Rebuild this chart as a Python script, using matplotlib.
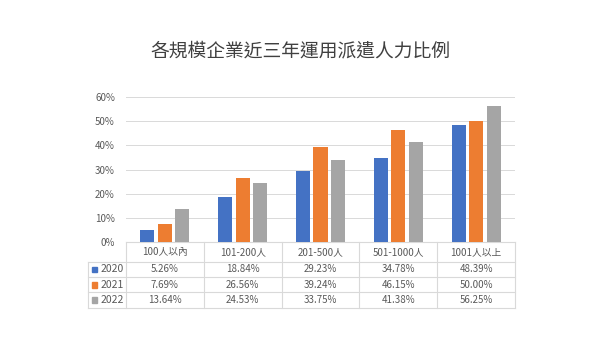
import matplotlib
matplotlib.use('Agg')
import matplotlib.pyplot as plt
import numpy as np
from matplotlib.transforms import blended_transform_factory
from matplotlib.lines import Line2D
from matplotlib.patches import Rectangle

plt.rcParams['font.family'] = ['Noto Sans CJK TC', 'DejaVu Sans']

# --- DATA ---
categories = ['100人以內', '101-200人', '201-500人', '501-1000人', '1001人以上']
years = ['2020', '2021', '2022']
v2020 = [5.26, 18.84, 29.23, 34.78, 48.39]
v2021 = [7.69, 26.56, 39.24, 46.15, 50.00]
v2022 = [13.64, 24.53, 33.75, 41.38, 56.25]
series = [v2020, v2021, v2022]
colors = ['#4472C4', '#ED7D31', '#A5A5A5']
yticks = [0, 10, 20, 30, 40, 50, 60]

text_col = '#595959'
line_col = '#D9D9D9'

fig = plt.figure(figsize=(6, 3.38), dpi=100)
fig.patch.set_facecolor('white')

# plot area in figure fractions
ax = fig.add_axes([126 / 600, 1 - 242.3 / 338, 389 / 600, 145.6 / 338])

x = np.arange(len(categories))
w = 0.18
gap = 0.045
for i, vals in enumerate(series):
    ax.bar(x + (i - 1) * (w + gap), vals, width=w, color=colors[i], zorder=3)

ax.set_xlim(-0.5, len(categories) - 0.5)
ax.set_ylim(0, 60)
ax.set_yticks(yticks)
ax.set_yticklabels([f'{t}%' for t in yticks], fontsize=7, color=text_col)
ax.set_xticks([])
ax.tick_params(axis='y', length=0, pad=8)
ax.grid(axis='y', color=line_col, linewidth=0.7, zorder=0)
for s in ['top', 'right', 'left']:
    ax.spines[s].set_visible(False)
ax.spines['bottom'].set_color(line_col)
ax.spines['bottom'].set_linewidth(0.8)

# --- DATA TABLE under the axis ---
tr = blended_transform_factory(ax.transData, ax.transAxes)
px = 145.6  # axes height in px
row_edges = [0, -19.4 / px, -35.0 / px, -50.0 / px, -65.4 / px]
left_edge = -0.5 - 38 / 77.8

def hline(x0, x1, y):
    ax.add_line(Line2D([x0, x1], [y, y], transform=tr, color=line_col,
                       linewidth=0.8, clip_on=False))

def vline(xx, y0, y1):
    ax.add_line(Line2D([xx, xx], [y0, y1], transform=tr, color=line_col,
                       linewidth=0.8, clip_on=False))

for y in row_edges[1:]:
    hline(left_edge, len(categories) - 0.5, y)
for b in np.arange(-0.5, len(categories), 1.0):
    vline(b, 0, row_edges[-1])
vline(left_edge, row_edges[1], row_edges[-1])

# header row
hy = (row_edges[0] + row_edges[1]) / 2
for i, c in enumerate(categories):
    ax.text(i, hy, c, transform=tr, ha='center', va='center',
            fontsize=7, color=text_col)

# value rows
for r, vals in enumerate(series):
    ry = (row_edges[r + 1] + row_edges[r + 2]) / 2
    for i, v in enumerate(vals):
        ax.text(i, ry, f'{v:.2f}%', transform=tr, ha='center', va='center',
                fontsize=7, color=text_col)
    # legend key + year
    kx = left_edge + 0.048
    ax.add_patch(Rectangle((kx, ry - 0.019), 0.07, 0.038, transform=tr,
                           color=colors[r], clip_on=False))
    ax.text(left_edge + 0.16, ry, years[r], transform=tr, ha='left', va='center',
            fontsize=7.5, color=text_col)

fig.text(0.5, 1 - 50.5 / 338, '各規模企業近三年運用派遣人力比例',
         ha='center', va='center', fontsize=13.5, color='#404040')

fig.savefig('out.png', dpi=100, facecolor='white')
